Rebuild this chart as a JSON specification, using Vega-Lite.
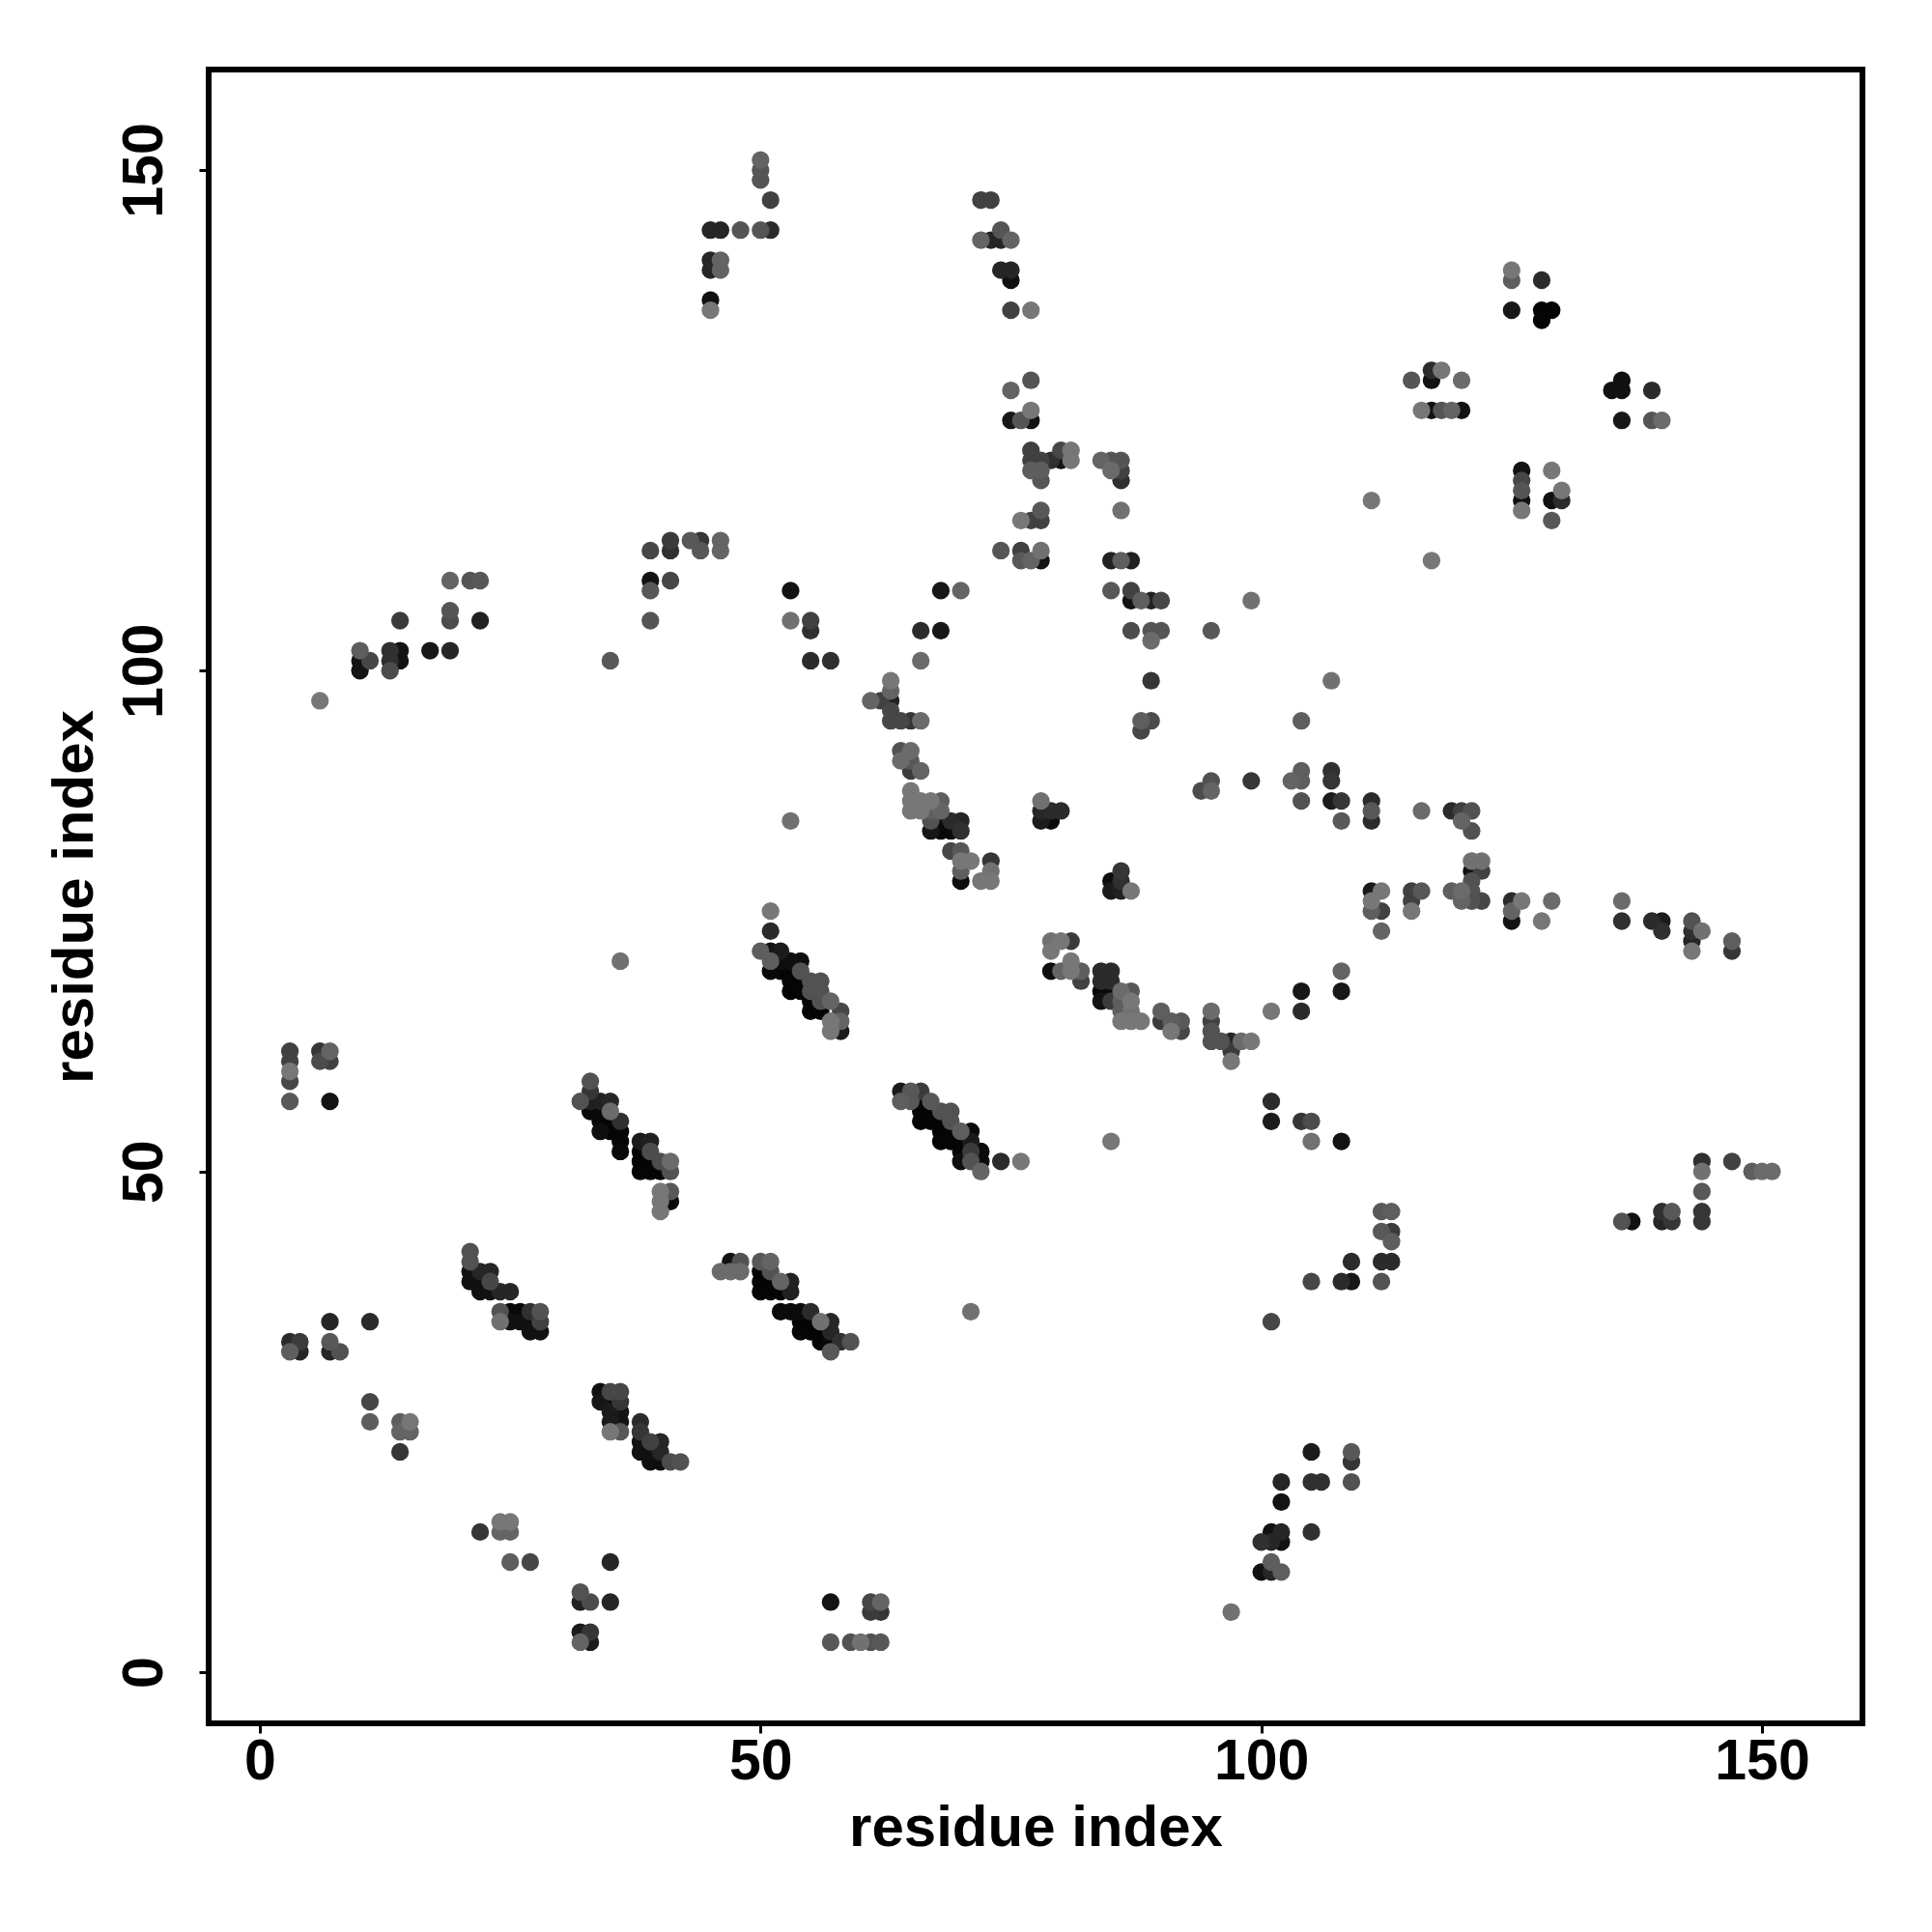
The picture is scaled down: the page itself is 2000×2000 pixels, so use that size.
{"$schema":"https://vega.github.io/schema/vega-lite/v6.json","width":1712,"height":1712,"autosize":{"type":"none"},"padding":{"left":216,"top":72,"right":72,"bottom":216},"background":"white","config":{"view":{"stroke":"black","strokeWidth":6,"fill":"white"}},"data":{"values":[
{"i":45,"j":136,"p":1},{"i":45,"j":137,"p":0.1},{"i":45,"j":140,"p":0.3},{"i":45,"j":141,"p":0.3},{"i":46,"j":140,"p":0.85},{"i":46,"j":141,"p":0.85},{"i":45,"j":144,"p":0.3},{"i":46,"j":144,"p":0.3},{"i":48,"j":144,"p":0.72},{"i":50,"j":144,"p":0.72},{"i":51,"j":144,"p":0.35},{"i":50,"j":149,"p":0.72},{"i":50,"j":150,"p":0.72},{"i":50,"j":151,"p":0.85},{"i":51,"j":147,"p":0.55},
{"i":72,"j":147,"p":0.55},{"i":73,"j":147,"p":0.55},{"i":72,"j":143,"p":0.85},{"i":73,"j":143,"p":0.3},{"i":74,"j":143,"p":0.3},{"i":74,"j":144,"p":0.72},{"i":75,"j":143,"p":0.85},{"i":74,"j":140,"p":0.3},{"i":75,"j":140,"p":0.3},{"i":75,"j":139,"p":0.1},{"i":75,"j":136,"p":0.55},{"i":77,"j":136,"p":1},
{"i":125,"j":140,"p":1},{"i":125,"j":139,"p":0.8},{"i":128,"j":139,"p":0.35},{"i":125,"j":136,"p":0.15},{"i":128,"j":136,"p":0.03},{"i":129,"j":136,"p":0.03},{"i":128,"j":135,"p":0.03},
{"i":117,"j":130,"p":0.35},{"i":118,"j":130,"p":1},{"i":115,"j":129,"p":0.72},{"i":117,"j":129,"p":0.1},{"i":120,"j":129,"p":0.9},{"i":116,"j":126,"p":1},{"i":117,"j":126,"p":0.1},{"i":118,"j":126,"p":0.72},{"i":119,"j":126,"p":0.85},{"i":120,"j":126,"p":0.12},
{"i":135,"j":128,"p":0.1},{"i":136,"j":128,"p":0.1},{"i":136,"j":129,"p":0.1},{"i":139,"j":128,"p":0.35},{"i":136,"j":125,"p":0.15},{"i":139,"j":125,"p":0.72},{"i":140,"j":125,"p":0.9},
{"i":126,"j":120,"p":0.12},{"i":126,"j":119,"p":0.6},{"i":126,"j":118,"p":0.72},{"i":126,"j":117,"p":0.1},{"i":126,"j":116,"p":1},{"i":129,"j":120,"p":1},{"i":129,"j":117,"p":0.1},{"i":130,"j":117,"p":0.35},{"i":130,"j":118,"p":1},{"i":129,"j":115,"p":0.75},{"i":111,"j":117,"p":1},{"i":117,"j":111,"p":1},
{"i":77,"j":129,"p":0.72},{"i":75,"j":128,"p":0.85},{"i":77,"j":126,"p":1},{"i":77,"j":125,"p":0.12},{"i":76,"j":125,"p":0.72},{"i":75,"j":125,"p":0.15},
{"i":77,"j":122,"p":0.55},{"i":77,"j":121,"p":0.55},{"i":78,"j":121,"p":0.55},{"i":77,"j":120,"p":0.8},{"i":78,"j":120,"p":0.8},{"i":78,"j":119,"p":0.72},{"i":79,"j":121,"p":0.4},{"i":80,"j":122,"p":0.6},{"i":80,"j":121,"p":0.12},{"i":81,"j":122,"p":1},{"i":81,"j":121,"p":1},
{"i":84,"j":121,"p":0.85},{"i":85,"j":121,"p":0.72},{"i":86,"j":121,"p":0.72},{"i":85,"j":120,"p":0.9},{"i":86,"j":120,"p":0.55},{"i":86,"j":119,"p":0.4},{"i":86,"j":116,"p":0.95},
{"i":78,"j":116,"p":0.75},{"i":78,"j":115,"p":0.55},{"i":77,"j":115,"p":0.55},{"i":76,"j":115,"p":1},{"i":76,"j":112,"p":0.55},{"i":74,"j":112,"p":0.72},{"i":78,"j":112,"p":0.95},{"i":76,"j":111,"p":0.75},{"i":77,"j":111,"p":0.85},{"i":78,"j":111,"p":0.12},
{"i":85,"j":111,"p":0.25},{"i":86,"j":111,"p":0.8},{"i":87,"j":111,"p":0.25},{"i":85,"j":108,"p":0.75},{"i":87,"j":108,"p":0.55},{"i":87,"j":107,"p":0.12},{"i":88,"j":107,"p":0.8},{"i":89,"j":107,"p":0.25},{"i":90,"j":107,"p":0.6},{"i":99,"j":107,"p":0.95},
{"i":87,"j":104,"p":0.65},{"i":89,"j":104,"p":0.72},{"i":90,"j":104,"p":0.72},{"i":89,"j":103,"p":0.9},{"i":95,"j":104,"p":0.75},{"i":89,"j":99,"p":0.45},{"i":107,"j":99,"p":0.95},{"i":88,"j":95,"p":0.8},{"i":89,"j":95,"p":0.65},{"i":88,"j":94,"p":0.6},{"i":104,"j":95,"p":0.8},
{"i":10,"j":102,"p":0.8},{"i":10,"j":101,"p":0.12},{"i":10,"j":100,"p":0.12},{"i":11,"j":101,"p":0.6},{"i":13,"j":100,"p":0.65},{"i":13,"j":101,"p":0.4},{"i":13,"j":102,"p":0.4},{"i":14,"j":101,"p":0.12},{"i":14,"j":102,"p":0.12},{"i":14,"j":105,"p":0.5},{"i":17,"j":102,"p":0.15},{"i":19,"j":102,"p":0.3},{"i":19,"j":105,"p":0.65},{"i":19,"j":106,"p":0.72},{"i":22,"j":105,"p":0.25},{"i":19,"j":109,"p":0.85},{"i":21,"j":109,"p":0.72},{"i":22,"j":109,"p":0.75},{"i":6,"j":97,"p":1},{"i":35,"j":101,"p":0.75},
{"i":39,"j":105,"p":0.72},{"i":39,"j":108,"p":0.75},{"i":39,"j":109,"p":0.12},{"i":39,"j":112,"p":0.6},{"i":41,"j":113,"p":0.5},{"i":41,"j":112,"p":0.4},{"i":41,"j":109,"p":0.6},{"i":43,"j":113,"p":0.75},{"i":44,"j":113,"p":0.45},{"i":44,"j":112,"p":0.75},{"i":46,"j":113,"p":0.85},{"i":46,"j":112,"p":0.85},
{"i":53,"j":108,"p":0.12},{"i":53,"j":105,"p":0.95},{"i":55,"j":105,"p":0.55},{"i":55,"j":104,"p":0.4},{"i":55,"j":101,"p":0.35},{"i":57,"j":101,"p":0.4},
{"i":66,"j":104,"p":0.35},{"i":68,"j":104,"p":0.15},{"i":66,"j":101,"p":0.9},{"i":68,"j":108,"p":0.15},{"i":70,"j":108,"p":0.85},
{"i":61,"j":97,"p":0.85},{"i":62,"j":97,"p":0.55},{"i":63,"j":99,"p":1},{"i":63,"j":98,"p":0.85},{"i":63,"j":97,"p":0.25},{"i":63,"j":96,"p":0.6},{"i":63,"j":95,"p":0.6},{"i":64,"j":95,"p":0.6},{"i":65,"j":95,"p":0.45},{"i":66,"j":95,"p":0.9},
{"i":64,"j":92,"p":0.7},{"i":65,"j":92,"p":0.9},{"i":64,"j":91,"p":0.9},{"i":65,"j":91,"p":0.75},{"i":65,"j":90,"p":0.5},{"i":66,"j":90,"p":0.85},
{"i":65,"j":88,"p":1},{"i":65,"j":87,"p":1},{"i":65,"j":86,"p":1},{"i":66,"j":87,"p":1},{"i":66,"j":86,"p":1},{"i":67,"j":87,"p":1},{"i":68,"j":87,"p":0.8},{"i":67,"j":86,"p":0.8},{"i":68,"j":86,"p":0.85},{"i":67,"j":85,"p":0.7},{"i":67,"j":84,"p":0.15},{"i":68,"j":85,"p":0.05},{"i":68,"j":84,"p":0.05},{"i":69,"j":85,"p":0.35},{"i":70,"j":85,"p":0.3},{"i":69,"j":84,"p":0.05},{"i":70,"j":84,"p":0.4},
{"i":69,"j":82,"p":0.6},{"i":70,"j":82,"p":0.75},{"i":71,"j":81,"p":1},{"i":70,"j":81,"p":1},{"i":70,"j":80,"p":0.8},{"i":70,"j":79,"p":0.08},{"i":73,"j":81,"p":0.45},{"i":73,"j":80,"p":0.95},{"i":73,"j":79,"p":1},{"i":72,"j":79,"p":1},
{"i":78,"j":87,"p":0.95},{"i":78,"j":86,"p":0.3},{"i":78,"j":85,"p":0.2},{"i":79,"j":86,"p":0.35},{"i":79,"j":85,"p":0.05},{"i":80,"j":86,"p":0.35},{"i":53,"j":85,"p":0.95},
{"i":86,"j":80,"p":0.45},{"i":85,"j":79,"p":0.08},{"i":86,"j":79,"p":0.4},{"i":85,"j":78,"p":0.2},{"i":86,"j":78,"p":0.25},{"i":87,"j":78,"p":1},
{"i":79,"j":73,"p":0.95},{"i":80,"j":73,"p":1},{"i":81,"j":73,"p":0.5},{"i":79,"j":72,"p":1},{"i":81,"j":71,"p":1},{"i":79,"j":70,"p":0.08},{"i":80,"j":70,"p":0.85},{"i":81,"j":70,"p":1},{"i":82,"j":70,"p":0.8},{"i":82,"j":69,"p":0.55},
{"i":84,"j":70,"p":0.35},{"i":85,"j":70,"p":0.35},{"i":84,"j":69,"p":0.35},{"i":85,"j":69,"p":0.35},{"i":84,"j":68,"p":0.05},{"i":85,"j":68,"p":0.05},{"i":84,"j":67,"p":0.12},{"i":85,"j":67,"p":0.5},
{"i":86,"j":68,"p":0.9},{"i":87,"j":68,"p":0.75},{"i":86,"j":67,"p":0.8},{"i":87,"j":67,"p":1},{"i":86,"j":66,"p":0.8},{"i":87,"j":66,"p":0.95},{"i":86,"j":65,"p":1},{"i":87,"j":65,"p":1},{"i":88,"j":65,"p":1},
{"i":90,"j":66,"p":0.8},{"i":90,"j":65,"p":0.5},{"i":91,"j":65,"p":0.8},{"i":92,"j":65,"p":0.75},{"i":91,"j":64,"p":1},{"i":92,"j":64,"p":0.6},
{"i":95,"j":66,"p":0.9},{"i":95,"j":65,"p":0.55},{"i":95,"j":64,"p":0.7},{"i":95,"j":63,"p":0.7},{"i":96,"j":63,"p":0.7},{"i":97,"j":63,"p":0.3},{"i":97,"j":62,"p":0.5},{"i":97,"j":61,"p":1},{"i":98,"j":63,"p":0.9},{"i":99,"j":63,"p":1},
{"i":101,"j":66,"p":1},{"i":104,"j":68,"p":0.15},{"i":104,"j":66,"p":0.35},{"i":108,"j":70,"p":0.85},{"i":108,"j":68,"p":0.18},{"i":101,"j":57,"p":0.35},{"i":101,"j":55,"p":0.2},{"i":104,"j":55,"p":0.45},{"i":105,"j":55,"p":0.65},{"i":105,"j":53,"p":0.95},{"i":108,"j":53,"p":0.12},{"i":85,"j":53,"p":1},
{"i":111,"j":78,"p":0.2},{"i":112,"j":78,"p":1},{"i":111,"j":77,"p":1},{"i":111,"j":76,"p":0.8},{"i":112,"j":76,"p":0.55},{"i":112,"j":74,"p":0.85},{"i":115,"j":78,"p":0.55},{"i":116,"j":78,"p":0.75},{"i":115,"j":77,"p":0.55},{"i":115,"j":76,"p":1},{"i":119,"j":78,"p":0.8},{"i":120,"j":78,"p":0.9},{"i":121,"j":81,"p":0.95},{"i":122,"j":81,"p":0.95},{"i":121,"j":80,"p":0.12},{"i":122,"j":80,"p":0.55},{"i":121,"j":79,"p":0.7},{"i":121,"j":78,"p":0.7},{"i":120,"j":77,"p":0.85},{"i":121,"j":77,"p":0.7},{"i":122,"j":77,"p":0.6},
{"i":95,"j":89,"p":0.7},{"i":94,"j":88,"p":0.65},{"i":95,"j":88,"p":0.85},{"i":99,"j":89,"p":0.45},{"i":103,"j":89,"p":0.85},{"i":104,"j":90,"p":0.8},{"i":104,"j":89,"p":0.8},{"i":104,"j":87,"p":0.7},
{"i":107,"j":90,"p":0.4},{"i":107,"j":89,"p":0.45},{"i":107,"j":87,"p":0.2},{"i":108,"j":87,"p":0.45},{"i":108,"j":85,"p":0.75},{"i":111,"j":87,"p":0.35},{"i":111,"j":86,"p":0.75},{"i":111,"j":85,"p":0.35},{"i":116,"j":86,"p":0.9},{"i":119,"j":86,"p":0.35},{"i":120,"j":86,"p":0.55},{"i":121,"j":86,"p":0.7},{"i":120,"j":85,"p":0.85},{"i":121,"j":84,"p":0.7},
{"i":125,"j":77,"p":0.35},{"i":125,"j":76,"p":0.85},{"i":125,"j":75,"p":0.12},{"i":126,"j":77,"p":1},{"i":128,"j":75,"p":1},{"i":129,"j":77,"p":0.9},{"i":136,"j":77,"p":0.9},{"i":136,"j":75,"p":0.4},{"i":139,"j":75,"p":0.35},{"i":140,"j":75,"p":0.2},{"i":140,"j":74,"p":0.4},{"i":143,"j":75,"p":0.7},{"i":143,"j":74,"p":0.4},{"i":143,"j":73,"p":0.3},{"i":143,"j":72,"p":1},{"i":144,"j":74,"p":0.95},{"i":147,"j":73,"p":0.8},{"i":147,"j":72,"p":0.45},
{"i":3,"j":62,"p":0.55},{"i":3,"j":61,"p":0.55},{"i":3,"j":60,"p":1},{"i":3,"j":59,"p":0.6},{"i":3,"j":57,"p":0.75},{"i":7,"j":57,"p":0.12},{"i":6,"j":62,"p":0.45},{"i":7,"j":62,"p":0.85},{"i":6,"j":61,"p":0.65},{"i":7,"j":61,"p":0.55},
{"i":33,"j":59,"p":0.7},{"i":32,"j":57,"p":0.7},{"i":33,"j":58,"p":0.45},{"i":33,"j":57,"p":0.25},{"i":34,"j":57,"p":0.25},{"i":35,"j":57,"p":0.3},{"i":33,"j":56,"p":0.05},{"i":34,"j":56,"p":0.05},{"i":35,"j":56,"p":0.9},{"i":36,"j":55,"p":0.4},{"i":34,"j":55,"p":0.03},{"i":35,"j":55,"p":0.03},{"i":34,"j":54,"p":0.08},{"i":35,"j":54,"p":0.03},{"i":36,"j":54,"p":0.03},{"i":36,"j":53,"p":0.03},{"i":36,"j":52,"p":0.05},
{"i":38,"j":53,"p":0.2},{"i":39,"j":53,"p":0.25},{"i":38,"j":52,"p":0.03},{"i":39,"j":52,"p":0.65},{"i":38,"j":51,"p":0.03},{"i":39,"j":51,"p":0.03},{"i":40,"j":51,"p":0.65},{"i":41,"j":51,"p":0.9},{"i":38,"j":50,"p":0.03},{"i":39,"j":50,"p":0.03},{"i":40,"j":50,"p":0.03},{"i":41,"j":50,"p":0.7},{"i":40,"j":48,"p":1},{"i":41,"j":48,"p":0.75},{"i":40,"j":47,"p":1},{"i":41,"j":47,"p":0.05},{"i":40,"j":46,"p":1},
{"i":21,"j":42,"p":0.7},{"i":21,"j":41,"p":0.7},{"i":21,"j":40,"p":0.1},{"i":21,"j":39,"p":0.1},{"i":22,"j":40,"p":0.3},{"i":23,"j":40,"p":0.3},{"i":22,"j":39,"p":0.1},{"i":23,"j":39,"p":0.6},{"i":22,"j":38,"p":0.1},{"i":23,"j":38,"p":0.1},{"i":24,"j":38,"p":0.3},{"i":25,"j":38,"p":0.3},
{"i":24,"j":36,"p":0.7},{"i":24,"j":35,"p":0.95},{"i":25,"j":36,"p":0.05},{"i":26,"j":36,"p":0.05},{"i":27,"j":36,"p":0.4},{"i":28,"j":36,"p":0.7},{"i":25,"j":35,"p":0.1},{"i":26,"j":35,"p":0.1},{"i":27,"j":35,"p":0.05},{"i":28,"j":35,"p":0.55},{"i":27,"j":34,"p":0.1},{"i":28,"j":34,"p":0.1},
{"i":7,"j":35,"p":0.3},{"i":11,"j":35,"p":0.35},{"i":3,"j":33,"p":0.35},{"i":4,"j":33,"p":0.5},{"i":3,"j":32,"p":0.8},{"i":4,"j":32,"p":0.3},{"i":7,"j":33,"p":0.75},{"i":7,"j":32,"p":0.3},{"i":8,"j":32,"p":0.7},
{"i":11,"j":27,"p":0.6},{"i":11,"j":25,"p":0.8},{"i":14,"j":25,"p":0.8},{"i":15,"j":25,"p":1},{"i":14,"j":24,"p":0.85},{"i":15,"j":24,"p":0.85},{"i":14,"j":22,"p":0.45},
{"i":34,"j":28,"p":0.1},{"i":35,"j":28,"p":0.6},{"i":36,"j":28,"p":0.6},{"i":34,"j":27,"p":0.15},{"i":35,"j":27,"p":0.05},{"i":36,"j":27,"p":0.45},{"i":35,"j":26,"p":0.2},{"i":36,"j":26,"p":0.12},{"i":35,"j":25,"p":0.2},{"i":36,"j":25,"p":0.12},{"i":35,"j":24,"p":1},{"i":36,"j":24,"p":0.75},
{"i":38,"j":25,"p":0.35},{"i":38,"j":24,"p":0.45},{"i":38,"j":23,"p":0.1},{"i":39,"j":23,"p":0.55},{"i":40,"j":23,"p":0.3},{"i":38,"j":22,"p":0.1},{"i":39,"j":22,"p":0.1},{"i":40,"j":22,"p":0.3},{"i":39,"j":21,"p":0.08},{"i":40,"j":21,"p":0.08},{"i":41,"j":21,"p":0.65},{"i":42,"j":21,"p":0.7},
{"i":22,"j":14,"p":0.45},{"i":24,"j":15,"p":1},{"i":25,"j":15,"p":1},{"i":24,"j":14,"p":0.85},{"i":25,"j":14,"p":0.85},{"i":25,"j":11,"p":0.8},{"i":27,"j":11,"p":0.6},{"i":35,"j":11,"p":0.3},
{"i":32,"j":8,"p":0.7},{"i":32,"j":7,"p":0.25},{"i":33,"j":7,"p":0.65},{"i":35,"j":7,"p":0.3},{"i":32,"j":4,"p":0.2},{"i":33,"j":4,"p":0.45},{"i":32,"j":3,"p":0.85},{"i":33,"j":3,"p":0.2},
{"i":57,"j":7,"p":0.12},{"i":57,"j":3,"p":0.75},{"i":59,"j":3,"p":0.7},{"i":60,"j":3,"p":0.95},{"i":61,"j":3,"p":0.7},{"i":62,"j":3,"p":0.75},{"i":61,"j":7,"p":0.6},{"i":62,"j":7,"p":0.85},{"i":61,"j":6,"p":0.5},{"i":62,"j":6,"p":0.45},{"i":97,"j":6,"p":0.95},
{"i":100,"j":10,"p":0.1},{"i":101,"j":10,"p":0.3},{"i":102,"j":10,"p":0.8},{"i":101,"j":11,"p":0.8},{"i":100,"j":13,"p":0.4},{"i":101,"j":14,"p":0.1},{"i":102,"j":14,"p":0.3},{"i":101,"j":13,"p":0.3},{"i":102,"j":13,"p":0.1},{"i":105,"j":14,"p":0.4},{"i":102,"j":17,"p":0.12},{"i":102,"j":19,"p":0.3},{"i":105,"j":19,"p":0.4},{"i":106,"j":19,"p":0.4},{"i":105,"j":22,"p":0.2},{"i":109,"j":22,"p":0.75},{"i":109,"j":21,"p":0.45},{"i":109,"j":19,"p":0.7},
{"i":101,"j":35,"p":0.6},{"i":105,"j":39,"p":0.6},{"i":108,"j":39,"p":0.35},{"i":109,"j":39,"p":0.15},{"i":109,"j":41,"p":0.35},{"i":112,"j":39,"p":0.7},{"i":112,"j":41,"p":0.35},{"i":113,"j":41,"p":0.35},{"i":113,"j":43,"p":0.8},{"i":113,"j":44,"p":0.5},{"i":112,"j":44,"p":0.75},{"i":112,"j":46,"p":0.75},{"i":113,"j":46,"p":0.8},
{"i":136,"j":45,"p":0.7},{"i":137,"j":45,"p":0.1},{"i":140,"j":46,"p":0.4},{"i":141,"j":46,"p":0.75},{"i":140,"j":45,"p":0.3},{"i":141,"j":45,"p":0.45},{"i":144,"j":46,"p":0.45},{"i":144,"j":45,"p":0.45},{"i":144,"j":48,"p":0.75},{"i":144,"j":50,"p":0.95},{"i":144,"j":51,"p":0.4},{"i":147,"j":51,"p":0.55},{"i":149,"j":50,"p":0.8},{"i":150,"j":50,"p":0.9},{"i":151,"j":50,"p":0.9},
{"i":51,"j":76,"p":1},{"i":51,"j":74,"p":0.35},{"i":50,"j":72,"p":0.8},{"i":51,"j":72,"p":0.12},{"i":52,"j":72,"p":0.2},{"i":51,"j":71,"p":0.8},{"i":52,"j":71,"p":0.08},{"i":53,"j":71,"p":0.08},{"i":54,"j":71,"p":0.08},{"i":51,"j":70,"p":0.05},{"i":52,"j":70,"p":0.03},{"i":53,"j":70,"p":0.03},{"i":54,"j":70,"p":0.7},{"i":53,"j":69,"p":0.03},{"i":54,"j":69,"p":0.03},{"i":55,"j":69,"p":0.7},{"i":56,"j":69,"p":0.7},{"i":53,"j":68,"p":0.03},{"i":54,"j":68,"p":0.03},{"i":55,"j":68,"p":0.7},{"i":56,"j":68,"p":0.7},{"i":55,"j":67,"p":0.03},{"i":56,"j":67,"p":0.7},{"i":57,"j":67,"p":0.85},{"i":55,"j":66,"p":0.03},{"i":56,"j":66,"p":0.03},{"i":58,"j":66,"p":0.6},{"i":57,"j":65,"p":1},{"i":58,"j":65,"p":0.85},{"i":57,"j":64,"p":1},{"i":58,"j":64,"p":0.2},
{"i":64,"j":58,"p":0.2},{"i":65,"j":58,"p":0.75},{"i":66,"j":58,"p":0.5},{"i":64,"j":57,"p":0.8},{"i":65,"j":57,"p":0.75},{"i":66,"j":57,"p":0.03},{"i":67,"j":57,"p":0.75},{"i":66,"j":56,"p":0.03},{"i":67,"j":56,"p":0.03},{"i":68,"j":56,"p":0.7},{"i":69,"j":56,"p":0.7},{"i":66,"j":55,"p":0.03},{"i":67,"j":55,"p":0.03},{"i":68,"j":55,"p":0.03},{"i":69,"j":55,"p":0.7},{"i":68,"j":54,"p":0.03},{"i":69,"j":54,"p":0.03},{"i":70,"j":54,"p":0.8},{"i":71,"j":54,"p":0.06},{"i":68,"j":53,"p":0.03},{"i":69,"j":53,"p":0.03},{"i":70,"j":53,"p":0.03},{"i":71,"j":53,"p":0.2},{"i":72,"j":52,"p":0.06},{"i":70,"j":52,"p":0.03},{"i":71,"j":52,"p":0.5},{"i":70,"j":51,"p":0.08},{"i":71,"j":51,"p":0.7},{"i":72,"j":51,"p":0.06},{"i":72,"j":50,"p":0.85},{"i":74,"j":51,"p":0.35},{"i":76,"j":51,"p":1},{"i":71,"j":36,"p":0.95},{"i":36,"j":71,"p":0.95},
{"i":47,"j":41,"p":0.12},{"i":48,"j":41,"p":0.7},{"i":50,"j":41,"p":0.75},{"i":51,"j":41,"p":0.85},{"i":46,"j":40,"p":0.9},{"i":47,"j":40,"p":0.9},{"i":48,"j":40,"p":0.9},{"i":50,"j":40,"p":0.03},{"i":51,"j":40,"p":0.7},{"i":50,"j":39,"p":0.03},{"i":51,"j":39,"p":0.03},{"i":52,"j":39,"p":0.85},{"i":53,"j":39,"p":0.25},{"i":50,"j":38,"p":0.03},{"i":51,"j":38,"p":0.03},{"i":52,"j":38,"p":0.03},{"i":53,"j":38,"p":0.25},
{"i":52,"j":36,"p":0.06},{"i":53,"j":36,"p":0.06},{"i":54,"j":36,"p":0.06},{"i":55,"j":36,"p":0.35},{"i":56,"j":35,"p":0.95},{"i":57,"j":35,"p":0.3},{"i":54,"j":35,"p":0.03},{"i":55,"j":35,"p":0.03},{"i":54,"j":34,"p":0.03},{"i":55,"j":34,"p":0.03},{"i":56,"j":34,"p":0.03},{"i":57,"j":34,"p":0.3},{"i":56,"j":33,"p":0.03},{"i":57,"j":33,"p":0.05},{"i":58,"j":33,"p":0.4},{"i":59,"j":33,"p":0.7},{"i":57,"j":32,"p":0.75}
]},"mark":{"type":"point","filled":true,"opacity":1,"size":335,"stroke":null},"encoding":{"x":{"field":"i","type":"quantitative","scale":{"domain":[-5.11,160.03],"nice":false,"zero":false},"axis":{"values":[0,50,100,150],"grid":false,"domain":false,"tickColor":"black","tickWidth":3,"tickSize":10,"labelFont":"Liberation Sans","labelFontWeight":"bold","labelFontSize":59,"labelColor":"black","labelPadding":0,"labelFlush":false,"title":"residue index","titleFont":"Liberation Sans","titleFontWeight":"bold","titleFontSize":60,"titleColor":"black","titlePadding":10}},"y":{"field":"j","type":"quantitative","scale":{"domain":[-5.11,160.03],"nice":false,"zero":false},"axis":{"values":[0,50,100,150],"grid":false,"domain":false,"tickColor":"black","tickWidth":3,"tickSize":10,"labelFont":"Liberation Sans","labelFontWeight":"bold","labelFontSize":59,"labelColor":"black","labelAngle":270,"labelAlign":"center","labelBaseline":"bottom","labelPadding":27,"labelFlush":false,"title":"residue index","titleFont":"Liberation Sans","titleFontWeight":"bold","titleFontSize":60,"titleColor":"black","titlePadding":12}},"color":{"field":"p","type":"quantitative","legend":null,"scale":{"domain":[0,1],"range":["#000000","#777777"]}},"order":{"field":"p","type":"quantitative"}}}
